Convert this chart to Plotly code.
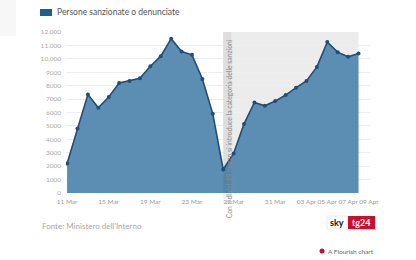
import plotly.graph_objects as go
import pandas as pd

# ---- data ----
dates = pd.date_range("2020-03-11", "2020-04-08", freq="D")
values = [2200, 4800, 7350, 6350, 7150, 8200, 8350, 8550, 9450, 10200,
          11500, 10550, 10300, 8500, 5900, 1750, 2950, 5150, 6750, 6500,
          6850, 7300, 7850, 8350, 9400, 11250, 10500, 10150, 10400]
series_name = "Persone sanzionate o denunciate"
y_tickvals = [0, 1000, 2000, 3000, 4000, 5000, 6000, 7000, 8000, 9000, 10000, 11000, 12000]
y_ticktext = ["0", "1000", "2000", "3000", "4000", "5000", "6000", "7000", "8000", "9000",
              "10.000", "11.000", "12.000"]
x_tickvals = ["2020-03-11", "2020-03-15", "2020-03-19", "2020-03-23", "2020-03-27",
              "2020-03-31", "2020-04-03", "2020-04-05", "2020-04-07", "2020-04-09"]
x_ticktext = ["11 Mar", "15 Mar", "19 Mar", "23 Mar", "27 Mar", "31 Mar",
              "03 Apr", "05 Apr", "07 Apr", "09 Apr"]
event_date = "2020-03-26"
event_text = "Con il dl del 25 marzo si introduce la categoria delle sanzioni"
source_text = "Fonte: Ministero dell'Interno"

# ---- layout geometry ----
W_FIG, H_FIG = 416, 260
L, R, T, B = 66, 46, 32, 67
PW = W_FIG - L - R
PH = H_FIG - T - B
FONT = "Lato, 'Open Sans', sans-serif"


def pxx(px):
    return (px - L) / PW


def pxy(py):
    return (H_FIG - B - py) / PH


fig = go.Figure()
fig.add_trace(go.Scatter(
    x=dates, y=values, mode="lines+markers", name=series_name,
    fill="tozeroy", fillcolor="#5c8db3",
    line=dict(color="#1f4f78", width=1.6),
    marker=dict(color="#1f4f78", size=4),
    showlegend=False, hoverinfo="x+y",
))

shapes = [
    # shaded period
    dict(type="rect", xref="x", yref="y", x0=event_date, x1=dates[-1], y0=0, y1=12000,
         fillcolor="#ececec", line=dict(width=0), layer="below"),
    # annotation band
    dict(type="rect", xref="x", yref="paper", x0=event_date, x1="2020-03-26 19:00",
         y0=pxy(199), y1=1, fillcolor="rgba(0,0,0,0.06)", line=dict(width=0), layer="above"),
    # legend swatch
    dict(type="rect", xref="paper", yref="paper", x0=pxx(40), x1=pxx(52), y0=pxy(16), y1=pxy(9),
         fillcolor="#1f5f8c", line=dict(width=0)),
    # sky logo parts
    dict(type="rect", xref="paper", yref="paper", x0=pxx(327), x1=pxx(347), y0=pxy(229), y1=pxy(216),
         fillcolor="white", line=dict(color="#dddddd", width=0.6)),
    dict(type="rect", xref="paper", yref="paper", x0=pxx(348), x1=pxx(375), y0=pxy(229), y1=pxy(216),
         fillcolor="#c8102e", line=dict(width=0)),
    # flourish dot
    dict(type="circle", xref="paper", yref="paper", x0=pxx(319.5), x1=pxx(324.5), y0=pxy(253.5), y1=pxy(248.5),
         fillcolor="#c8102e", line=dict(width=0)),
    # left edge blur
    dict(type="rect", xref="paper", yref="paper", x0=pxx(0), x1=pxx(16), y0=pxy(36), y1=pxy(0),
         fillcolor="rgba(225,225,225,0.25)", line=dict(width=0)),
]

annotations = [
    dict(text=series_name, xref="paper", yref="paper", x=pxx(55), y=pxy(12.5),
         xanchor="left", yanchor="middle", showarrow=False,
         font=dict(family=FONT, size=8.5, color="#555555")),
    dict(text=event_text, xref="x", yref="paper", x="2020-03-26 14:00", y=pxy(129),
         textangle=-90, xanchor="center", yanchor="middle", showarrow=False,
         font=dict(family=FONT, size=6.8, color="#8a8a8a")),
    dict(text=source_text, xref="paper", yref="paper", x=pxx(40), y=pxy(226),
         xanchor="left", yanchor="middle", showarrow=False,
         font=dict(family=FONT, size=8, color="#a8a8a8")),
    dict(text="<b>sky</b>", xref="paper", yref="paper", x=pxx(337), y=pxy(222.5),
         xanchor="center", yanchor="middle", showarrow=False,
         font=dict(family=FONT, size=9, color="#111111")),
    dict(text="<b>tg24</b>", xref="paper", yref="paper", x=pxx(361.5), y=pxy(222.5),
         xanchor="center", yanchor="middle", showarrow=False,
         font=dict(family=FONT, size=9, color="white")),
    dict(text="A Flourish chart", xref="paper", yref="paper", x=pxx(326), y=pxy(251),
         xanchor="left", yanchor="middle", showarrow=False,
         font=dict(family=FONT, size=6.5, color="#666666")),
]

fig.update_layout(
    width=W_FIG, height=H_FIG,
    margin=dict(l=L, r=R, t=T, b=B, pad=0),
    paper_bgcolor="white", plot_bgcolor="white",
    shapes=shapes, annotations=annotations,
    font=dict(family=FONT),
    xaxis=dict(
        type="date", range=["2020-03-10 21:30", "2020-04-09 02:30"],
        tickvals=x_tickvals, ticktext=x_ticktext, tickangle=0, showgrid=False, zeroline=False,
        showline=False, ticks="", tickfont=dict(family=FONT, size=6.5, color="#999999"),
        ticklabelstandoff=3, fixedrange=True,
    ),
    yaxis=dict(
        range=[0, 12000], tickvals=y_tickvals, ticktext=y_ticktext,
        showgrid=True, gridcolor="#eeeeee", gridwidth=1, zeroline=False,
        showline=False, ticks="", tickfont=dict(family=FONT, size=6.5, color="#aaaaaa"),
        ticklabelstandoff=4, fixedrange=True,
    ),
)

fig.write_html("out.html")
